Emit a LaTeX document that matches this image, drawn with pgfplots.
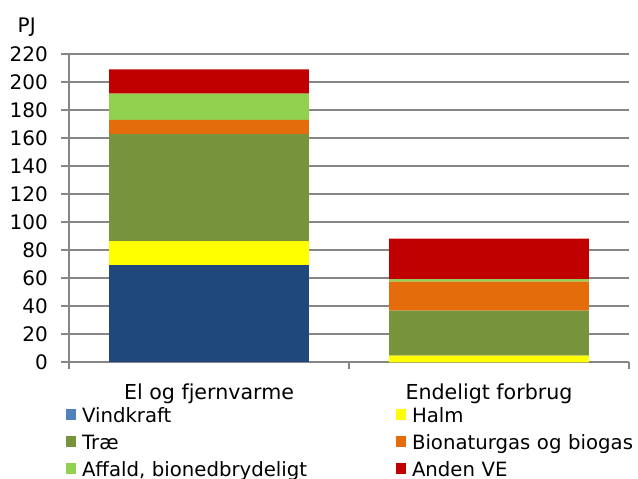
\documentclass[border=0pt]{standalone}
\usepackage{fontspec}
\setmainfont{DejaVu Sans}
\usepackage{pgfplots}
\pgfplotsset{compat=1.18}
\definecolor{gridgray}{HTML}{868686}
\definecolor{cVind}{HTML}{1F497D}
\definecolor{cVindL}{HTML}{4F81BD}
\definecolor{cHalm}{HTML}{FFFF00}
\definecolor{cTrae}{HTML}{77933C}
\definecolor{cBio}{HTML}{E46C0A}
\definecolor{cAff}{HTML}{92D050}
\definecolor{cAnden}{HTML}{C00000}
\begin{document}
\begin{tikzpicture}[font=\fontsize{20bp}{24bp}\selectfont]
\begin{axis}[
 at={(0,0)}, anchor=south west,
 scale only axis, width=560bp, height=308bp,
 xmin=-0.5, xmax=1.5, ymin=0, ymax=220,
 ybar stacked, bar width=0.714,
 axis x line*=bottom, axis y line*=left,
 axis line style={gridgray, line width=2bp},
 ytick={0,20,...,220},
 xtick={0,1}, xticklabels={El og fjernvarme, Endeligt forbrug},
 minor xtick={-0.5,0.5,1.5},
 tick align=outside,
 major tick length=8bp, minor tick length=7bp,
 major x tick style={draw=none},
 minor x tick style={gridgray, line width=2bp},
 y tick style={gridgray, line width=2bp},
 ymajorgrids, major grid style={gridgray, line width=2bp},
 /pgf/number format/assume math mode=true,
 yticklabel style={anchor=east, inner sep=0pt, xshift=-13bp, font=\fontsize{20bp}{24bp}\selectfont},
 xticklabel style={anchor=base, inner sep=0pt, yshift=-29bp, font=\fontsize{20.6bp}{24bp}\selectfont},
 legend columns=2,
 legend cell align=left,
 legend style={at={(-0.00536,-0.1474)}, anchor=north west, draw=none, fill=none, inner sep=0pt, outer sep=0pt,
   font=\fontsize{19.7bp}{24bp}\selectfont,
   nodes={inner sep=0pt, text height=15bp, text depth=4bp, text width=314bp, align=left},
   row sep=7.7bp, column sep=0pt,
   /tikz/every odd column/.append style={column sep=6bp}},
 legend image code/.code={\fill[#1] (0bp,-3bp) rectangle (10bp,8bp);},
]
\addplot[fill=cVind, draw=none, legend image post style={fill=cVindL}] coordinates {(0,69.3) (1,0)};
\addlegendentry{Vindkraft}
\addplot[fill=cHalm, draw=none] coordinates {(0,17.3) (1,4.7)};
\addlegendentry{Halm}
\addplot[fill=cTrae, draw=none] coordinates {(0,76.3) (1,32.2)};
\addlegendentry{Træ}
\addplot[fill=cBio, draw=none] coordinates {(0,10.2) (1,20.7)};
\addlegendentry{Bionaturgas og biogas}
\addplot[fill=cAff, draw=none] coordinates {(0,18.8) (1,1.9)};
\addlegendentry{Affald, bionedbrydeligt}
\addplot[fill=cAnden, draw=none] coordinates {(0,17.4) (1,28.8)};
\addlegendentry{Anden VE}
\end{axis}
\node[anchor=base west, inner sep=0pt] at (-51.5bp,329.6bp) {PJ};
\pgfresetboundingbox
\path[use as bounding box] (-69bp,-116.7bp) rectangle (569bp,362.3bp);
\end{tikzpicture}
\end{document}
